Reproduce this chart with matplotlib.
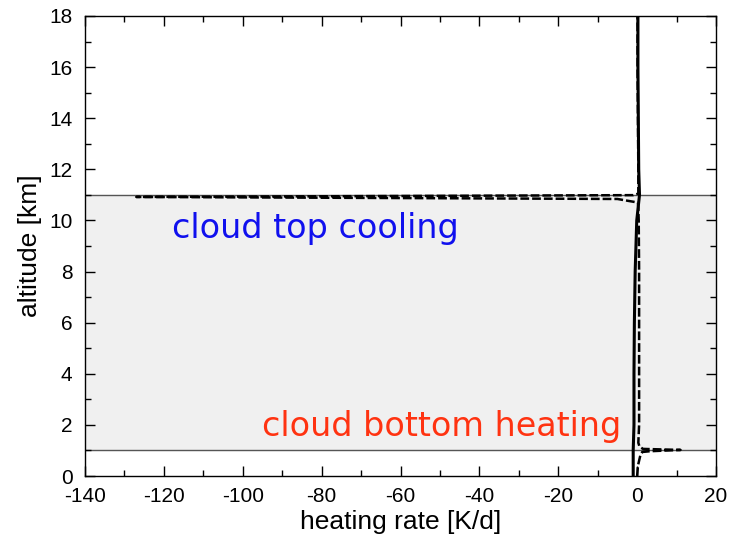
import matplotlib.pyplot as plt
from matplotlib.ticker import MultipleLocator

# reference profile (solid)
alt_ref = [0.0, 1.0, 2.0, 4.0, 6.0, 8.0, 10.0, 11.0, 12.0, 14.0, 16.0, 18.0]
hr_ref = [-1.0, -1.0, -0.8, -0.8, -0.7, -0.5, -0.1, 0.6, 0.4, 0.3, 0.2, 0.2]

# cloudy profile (dashed), sharp cooling at cloud top, heating at cloud base
alt_cld = [0.0, 0.4, 0.8, 0.94, 0.97, 1.02, 1.06, 1.15, 1.3, 2.0, 4.0, 6.0, 8.0,
           10.0, 10.5, 10.7, 10.84, 10.92, 10.99, 11.05, 12.0, 14.0, 16.0, 18.0]
hr_cld = [0.0, 0.2, 0.8, 1.3, 3.3, 11.0, 1.5, 0.6, 0.3, 0.5, 0.5, 0.5, 0.5,
          0.4, 0.3, 0.2, -5.0, -127.0, -1.0, 0.3, 0.3, 0.2, 0.1, 0.1]

cloud_base = 1.0
cloud_top = 11.0

plt.rcParams['font.family'] = ['Liberation Sans', 'DejaVu Sans']
plt.rcParams['axes.unicode_minus'] = False

fig = plt.figure(figsize=(7.34, 5.44), dpi=100)
ax = fig.add_axes([0.1158, 0.125, 0.8597, 0.8456])

ax.axhspan(cloud_base, cloud_top, color='#f0f0f0', zorder=0)
ax.axhline(cloud_base, color='#555555', lw=1, zorder=1)
ax.axhline(cloud_top, color='#555555', lw=1, zorder=1)

ax.plot(hr_ref, alt_ref, color='black', lw=2.2, zorder=3)
ax.plot(hr_cld, alt_cld, color='black', lw=1.8, ls=(0, (3.5, 1.2)), zorder=4)

ax.text(-118, 9.68, 'cloud top cooling', color='#1010ee', fontsize=24,
        family='DejaVu Sans', ha='left', va='center')
ax.text(-95, 1.92, 'cloud bottom heating', color='#ff3311', fontsize=24,
        family='DejaVu Sans', ha='left', va='center')

ax.set_xlim(-140, 20)
ax.set_ylim(0, 18)
ax.xaxis.set_major_locator(MultipleLocator(20))
ax.xaxis.set_minor_locator(MultipleLocator(10))
ax.yaxis.set_major_locator(MultipleLocator(2))
ax.yaxis.set_minor_locator(MultipleLocator(1))
ax.tick_params(which='both', direction='in', top=True, right=True, labelsize=15, width=1)
ax.tick_params(which='major', length=7)
ax.tick_params(which='minor', length=4)
ax.tick_params(axis='x', pad=8)
ax.tick_params(axis='y', pad=9)
for s in ax.spines.values():
    s.set_linewidth(1)

ax.set_xlabel('heating rate [K/d]', fontsize=19, labelpad=3)
ax.set_ylabel('altitude [km]', fontsize=19, labelpad=5)

fig.savefig('out.png', dpi=100)
